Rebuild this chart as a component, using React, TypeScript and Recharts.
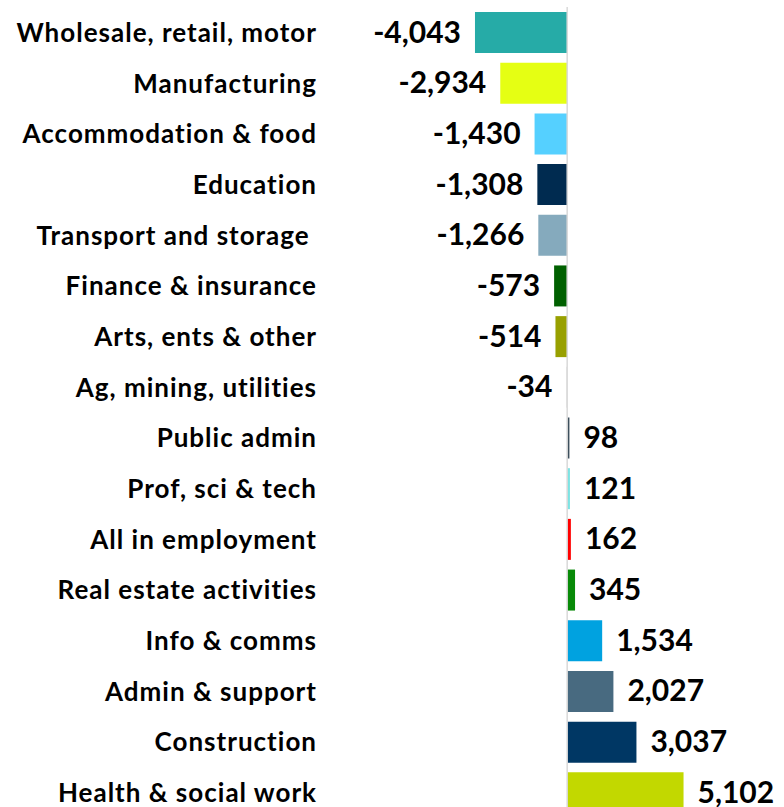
import React from 'react';
import { BarChart, Bar, XAxis, YAxis, Cell, LabelList, ReferenceLine } from 'recharts';

const categories = [
  'Wholesale, retail, motor',
  'Manufacturing',
  'Accommodation & food',
  'Education',
  'Transport and storage ',
  'Finance & insurance',
  'Arts, ents & other',
  'Ag, mining, utilities',
  'Public admin',
  'Prof, sci & tech',
  'All in employment',
  'Real estate activities',
  'Info & comms',
  'Admin & support',
  'Construction',
  'Health & social work',
];

const values = [-4043, -2934, -1430, -1308, -1266, -573, -514, -34, 98, 121, 162, 345, 1534, 2027, 3037, 5102];

const colors = [
  '#26aba7', '#e5ff13', '#55d0ff', '#002b50', '#85aabd', '#006000', '#98a000', '#d9d9d9',
  '#3d4f5c', '#7de3e3', '#ff0000', '#088a08', '#00a2e0', '#486a80', '#003764', '#c2d800',
];

const data = categories.map((name, i) => ({ name, value: values[i], color: colors[i] }));

const FONT = 'Lato, "DejaVu Sans", sans-serif';

const ValueLabel = (props: any) => {
  const { x, y, width, height, value } = props;
  const left = Math.min(x, x + width);
  const right = Math.max(x, x + width);
  const neg = value < 0;
  const tx = neg ? left - 14 : right + 14;
  return (
    <text
      x={tx}
      y={y + height / 2 + 10}
      textAnchor={neg ? 'end' : 'start'}
      fontFamily={FONT}
      fontWeight={700}
      fontSize={30}
      fill="#000"
    >
      {Number(value).toLocaleString('en-US')}
    </text>
  );
};

const CatTick = (props: any) => {
  const { x, y, payload } = props;
  return (
    <text
      x={x}
      y={y + 9.5}
      textAnchor="end"
      fontFamily={FONT}
      fontWeight={700}
      fontSize={26}
      letterSpacing={1}
      fill="#000"
      style={{ whiteSpace: 'pre' }}
    >
      {payload.value}
    </text>
  );
};

export default function App() {
  return (
    <div style={{ position: 'absolute', left: 0, top: 0, width: 784, height: 807, overflow: 'hidden', background: '#fff' }}>
      <BarChart
        width={784}
        height={820}
        data={data}
        layout="vertical"
        margin={{ top: 7, right: 7, bottom: 2, left: 0 }}
      >
        <XAxis type="number" domain={[-10400, 9200]} hide />
        <YAxis
          type="category"
          dataKey="name"
          width={330}
          tickLine={false}
          axisLine={false}
          tickSize={0}
          tickMargin={13}
          interval={0}
          tick={<CatTick />}
        />
        <ReferenceLine x={0} stroke="#d9d9d9" strokeWidth={1.5} />
        <Bar dataKey="value" barSize={41} isAnimationActive={false}>
          {data.map((d, i) => (
            <Cell key={i} fill={d.color} />
          ))}
          <LabelList dataKey="value" content={<ValueLabel />} />
        </Bar>
      </BarChart>
    </div>
  );
}
